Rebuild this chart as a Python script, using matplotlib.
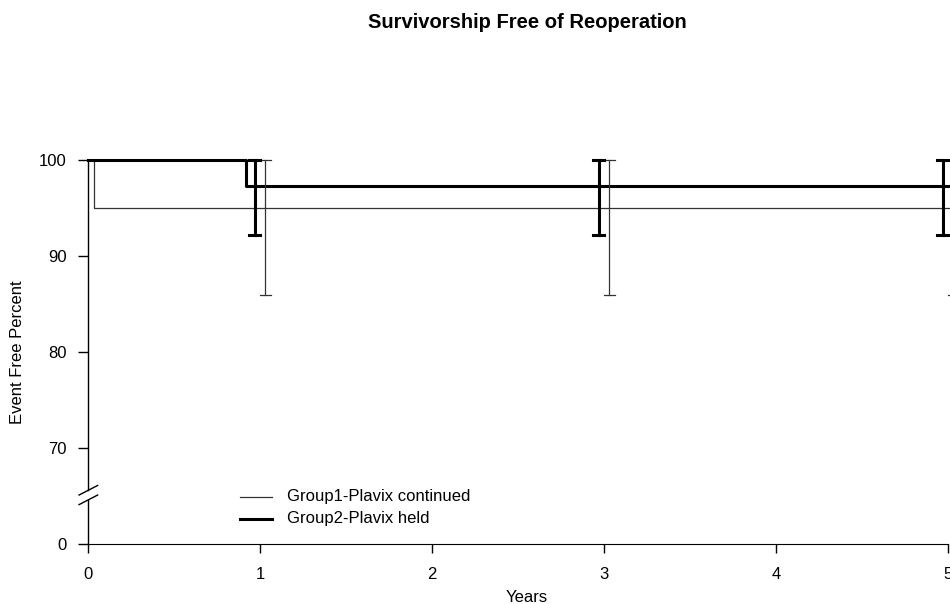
import matplotlib.pyplot as plt

plt.rcParams['font.family'] = ['Liberation Sans', 'DejaVu Sans']

# Kaplan-Meier steps (years, event free percent)
g1_times = [0, 0.035, 5.2]
g1_surv = [100, 95.0, 95.0]
g2_times = [0, 0.92, 5.2]
g2_surv = [100, 97.3, 97.3]

# confidence bars at 1, 3 and 5 years
ci_years = [1, 3, 5]
g1_lower = [85.9, 85.9, 85.9]
g1_upper = [100, 100, 100]
g2_lower = [92.2, 92.2, 92.2]
g2_upper = [100, 100, 100]

y_ticks = [60, 70, 80, 90, 100]
y_tick_labels = ['0', '70', '80', '90', '100']
x_ticks = [0, 1, 2, 3, 4, 5]
legend_labels = ['Group1-Plavix continued', 'Group2-Plavix held']

W, H = 950, 604
fig = plt.figure(figsize=(W / 100, H / 100), dpi=100)

# x: 0 -> px 88, 5 -> px 948 ; y: 60 ("0") -> px 544, 100 -> px 160
px_per_year = 172
px_per_pct = 9.6
xmax, ymax = 5.3, 102
ax = fig.add_axes([88 / W, (H - 544) / H, xmax * px_per_year / W,
                   (ymax - 60) * px_per_pct / H])
ax.set_xlim(0, xmax)
ax.set_ylim(60, ymax)

thin = dict(color='#333333', lw=0.9, clip_on=False)
thick = dict(color='black', lw=2.2, clip_on=False)

ax.step(g1_times, g1_surv, where='post', **thin)
ax.step(g2_times, g2_surv, where='post', **thick)

off = 0.03
cap = 0.032
for yr, lo, hi in zip(ci_years, g1_lower, g1_upper):
    x = yr + off
    ax.plot([x, x], [lo, hi], **thin)
    ax.plot([x - cap, x + cap], [lo, lo], **thin)
    ax.plot([x - cap, x + cap], [hi, hi], **thin)
for yr, lo, hi in zip(ci_years, g2_lower, g2_upper):
    x = yr - off
    ax.plot([x, x], [lo, hi], **thick)
    ax.plot([x - cap, x + cap], [lo, lo], **thick)
    ax.plot([x - cap, x + cap], [hi, hi], **thick)

# R-style axes with a break between 0 and 70
for s in ['top', 'right', 'left']:
    ax.spines[s].set_visible(False)
ax.spines['bottom'].set_bounds(0, 5)
ax.plot([0, 0], [60, 64.6], color='black', lw=1, clip_on=False)
ax.plot([0, 0], [65.6, 100], color='black', lw=1, clip_on=False)
ax.plot([-0.052, 0.056], [64.1, 65.1], color='black', lw=1, clip_on=False)
ax.plot([-0.052, 0.056], [65.1, 66.1], color='black', lw=1, clip_on=False)

ax.set_yticks(y_ticks)
ax.set_yticklabels(y_tick_labels)
ax.set_xticks(x_ticks)
ax.tick_params(axis='y', length=7.2, width=1, pad=8, labelsize=12)
ax.tick_params(axis='x', length=6.5, width=1, pad=10, labelsize=12)

fig.text(527 / W, 1 - 22 / H, 'Survivorship Free of Reoperation', ha='center',
         va='center', fontsize=14.5, fontweight='bold')
fig.text(527 / W, 1 - 597 / H, 'Years', ha='center', va='center', fontsize=12)
fig.text(18 / W, 1 - 352 / H, 'Event Free Percent', ha='center', va='center',
         rotation=90, fontsize=12)

# legend drawn by hand, no frame
leg_px = [497, 519]
leg_x = [(240 - 88) / px_per_year, (272 - 88) / px_per_year]
for py, style, label in zip(leg_px, [thin, thick], legend_labels):
    ly = 60 + (544 - py) / px_per_pct
    ax.plot(leg_x, [ly, ly], **style)
    fig.text(287 / W, 1 - py / H, label, ha='left', va='center', fontsize=12)

fig.savefig('out.png', dpi=100)
